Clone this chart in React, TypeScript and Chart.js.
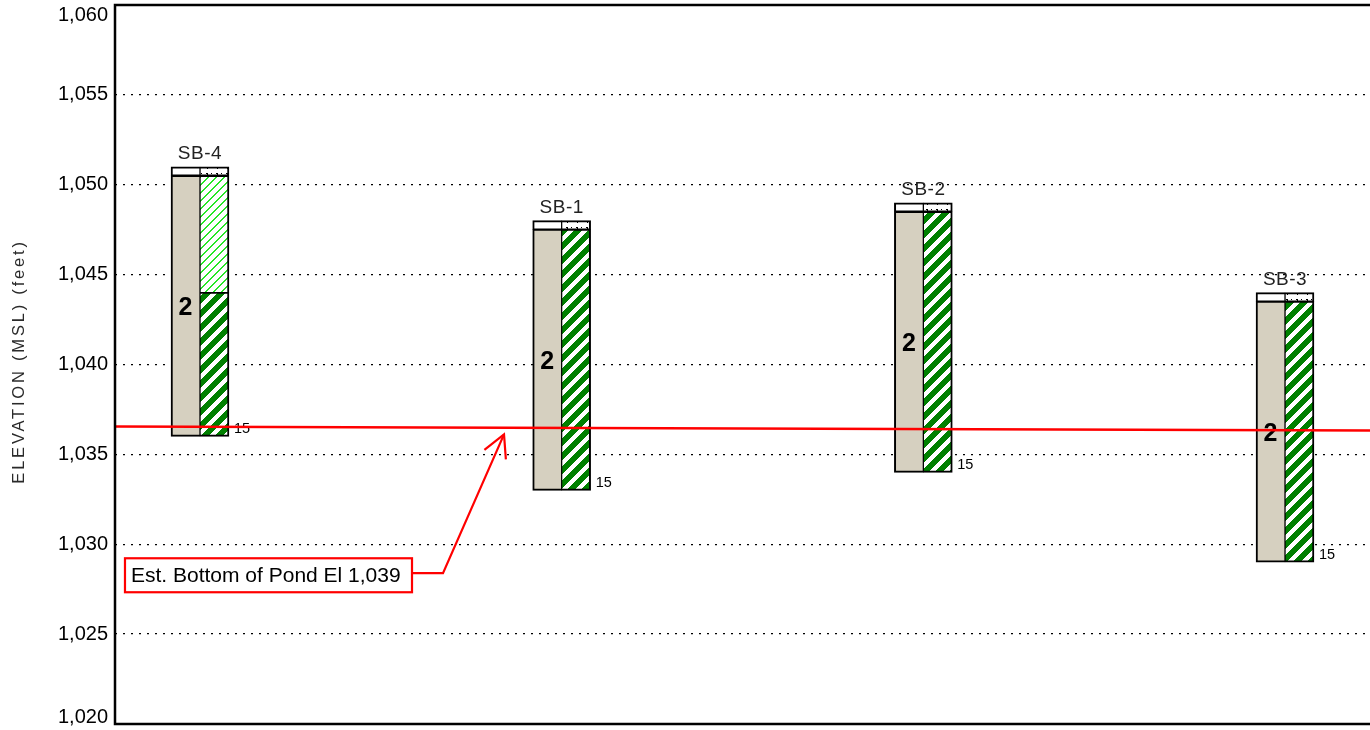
import React, { useEffect, useRef } from "react";
import { Chart, registerables } from "chart.js";

Chart.register(...registerables);

// ---- data ----
const boreholes = ["SB-4", "SB-1", "SB-2", "SB-3"];
const stations = [0, 1, 2, 3];
const topElevation = [1051, 1048, 1049, 1044];
const surfaceBottom = [1050.5, 1047.5, 1048.5, 1043.5];
const bottomElevation = [1036, 1033, 1034, 1029];
const darkHatchTop = [1044, 1047.5, 1048.5, 1043.5];
const lightHatchBottom: (number | null)[] = [1044, null, null, null];
const stratumLabels = ["2", "2", "2", "2"];
const depthLabels = ["15", "15", "15", "15"];

const pondLineX = [-0.235, 3.235];
const pondLineY = [1036.55, 1036.33];
const pondLabel = "Est. Bottom of Pond El 1,039";
const calloutBoxX = [-0.2074, 0.5862];
const calloutBoxY = [1027.33, 1029.22];
const calloutPathX = [0.5862, 0.6719, 0.8406];
const calloutPathY = [1028.39, 1028.39, 1036.11];

const yTickMin = 1020;
const yTickMax = 1060;
const yTickStep = 5;
const xMin = -0.235;
const xMax = 3.235;
const yTitle = "ELEVATION (MSL) (feet)";

// ---- styles ----
const FONT = '"Liberation Sans", Arial, Helvetica, sans-serif';
const COL_PX = 29;
const COL_OFF = 0.04;
const SOIL = "#d6d0c0";
const GREEN: [number, number, number] = [0, 128, 0];
const LIGHT_GREEN: [number, number, number] = [40, 230, 40];
const WHITE: [number, number, number] = [255, 255, 255];
const RED = "#ff0000";

// seamless "/" stripes: stripe pixels where (x + y) mod size is inside the band
function stripePattern(bg: number[], fg: number[], size: number, band: number) {
  const c = document.createElement("canvas");
  c.width = size;
  c.height = size;
  const ctx = c.getContext("2d")!;
  const img = ctx.createImageData(size, size);
  for (let y = 0; y < size; y++) {
    for (let x = 0; x < size; x++) {
      const d = (x + y) % size;
      // soft edge coverage
      let cov = 0;
      if (d < band) cov = 1;
      if (d === Math.floor(band)) cov = band - Math.floor(band);
      const i = (y * size + x) * 4;
      for (let k = 0; k < 3; k++) img.data[i + k] = Math.round(bg[k] * (1 - cov) + fg[k] * cov);
      img.data[i + 3] = 255;
    }
  }
  ctx.putImageData(img, 0, 0);
  return ctx.createPattern(c, "repeat")!;
}

function capPattern() {
  const c = document.createElement("canvas");
  c.width = 10;
  c.height = 9;
  const ctx = c.getContext("2d")!;
  ctx.fillStyle = "#fff";
  ctx.fillRect(0, 0, 10, 9);
  ctx.fillStyle = "#000";
  ctx.fillRect(1, 2, 1, 1);
  ctx.fillRect(2, 4, 1, 1);
  ctx.fillRect(4, 5, 1, 1);
  ctx.fillRect(7, 2, 1, 5);
  ctx.fillRect(6, 2, 1, 1);
  return ctx.createPattern(c, "repeat")!;
}

const boringPlugin = {
  id: "boringLog",
  afterDatasetDraw(chart: any, args: any) {
    if (args.index !== 0) return;
    const ctx = chart.ctx;
    const xs = chart.scales.x;
    const ys = chart.scales.y;
    ctx.save();
    ctx.fillStyle = "#000";
    stations.forEach((s, i) => {
      const cx = xs.getPixelForValue(s - COL_OFF);
      const cy = ys.getPixelForValue((surfaceBottom[i] + bottomElevation[i]) / 2);
      ctx.font = `bold 25px ${FONT}`;
      ctx.textAlign = "center";
      ctx.textBaseline = "middle";
      ctx.fillText(stratumLabels[i], cx, cy + 2);
      const rx = xs.getPixelForValue(s + COL_OFF) + COL_PX / 2 + 5;
      const by = ys.getPixelForValue(bottomElevation[i]);
      ctx.font = `14.5px ${FONT}`;
      ctx.textAlign = "left";
      ctx.textBaseline = "alphabetic";
      ctx.fillText(depthLabels[i], rx, by - 3);
    });
    ctx.restore();
  },
  afterDraw(chart: any) {
    const ctx = chart.ctx;
    const xs = chart.scales.x;
    const ys = chart.scales.y;
    const { left, right, top, bottom } = chart.chartArea;
    ctx.save();

    // frame
    ctx.strokeStyle = "#000";
    ctx.lineWidth = 2.5;
    ctx.beginPath();
    ctx.moveTo(right + 5, top);
    ctx.lineTo(left, top);
    ctx.lineTo(left, bottom);
    ctx.lineTo(right + 5, bottom);
    ctx.stroke();

    // y tick labels
    ctx.fillStyle = "#000";
    ctx.font = `20px ${FONT}`;
    ctx.textAlign = "right";
    ctx.textBaseline = "middle";
    ys.ticks.forEach((t: any) => {
      let py = ys.getPixelForValue(t.value);
      py = Math.max(py, top + 10);
      py = Math.min(py, bottom - 7);
      ctx.fillText(Number(t.value).toLocaleString("en-US"), left - 7, py);
    });

    // y title
    ctx.save();
    ctx.translate(24, (top + bottom) / 2 - 3);
    ctx.rotate(-Math.PI / 2);
    ctx.font = `16.5px ${FONT}`;
    (ctx as any).letterSpacing = "2.8px";
    ctx.fillStyle = "#2a2a2a";
    ctx.textAlign = "center";
    ctx.textBaseline = "alphabetic";
    ctx.fillText(yTitle, 0, 0);
    ctx.restore();

    // borehole names
    ctx.save();
    ctx.font = `19px ${FONT}`;
    (ctx as any).letterSpacing = "0.5px";
    ctx.fillStyle = "#222";
    ctx.textAlign = "center";
    ctx.textBaseline = "alphabetic";
    stations.forEach((s, i) => {
      ctx.fillText(boreholes[i], xs.getPixelForValue(s), ys.getPixelForValue(topElevation[i]) - 8);
    });
    ctx.restore();

    // callout
    const bx0 = xs.getPixelForValue(calloutBoxX[0]);
    const bx1 = xs.getPixelForValue(calloutBoxX[1]);
    const by0 = ys.getPixelForValue(calloutBoxY[1]);
    const by1 = ys.getPixelForValue(calloutBoxY[0]);
    ctx.fillStyle = "#fff";
    ctx.fillRect(bx0, by0, bx1 - bx0, by1 - by0);
    ctx.strokeStyle = RED;
    ctx.lineWidth = 2.2;
    ctx.strokeRect(bx0, by0, bx1 - bx0, by1 - by0);
    ctx.fillStyle = "#000";
    ctx.font = `21px ${FONT}`;
    ctx.textAlign = "left";
    ctx.textBaseline = "middle";
    ctx.fillText(pondLabel, bx0 + 6, (by0 + by1) / 2 + 1);

    const pts = calloutPathX.map((v, i) => [xs.getPixelForValue(v), ys.getPixelForValue(calloutPathY[i])]);
    ctx.beginPath();
    ctx.moveTo(pts[0][0], pts[0][1]);
    for (let i = 1; i < pts.length; i++) ctx.lineTo(pts[i][0], pts[i][1]);
    ctx.stroke();
    const tip = pts[pts.length - 1];
    const prev = pts[pts.length - 2];
    const ang = Math.atan2(prev[1] - tip[1], prev[0] - tip[0]);
    const head = 25;
    const spread = (28 * Math.PI) / 180;
    ctx.beginPath();
    ctx.moveTo(tip[0] + head * Math.cos(ang + spread), tip[1] + head * Math.sin(ang + spread));
    ctx.lineTo(tip[0], tip[1]);
    ctx.lineTo(tip[0] + head * Math.cos(ang - spread), tip[1] + head * Math.sin(ang - spread));
    ctx.stroke();

    ctx.restore();
  },
};

export default function App() {
  const ref = useRef<HTMLCanvasElement | null>(null);

  useEffect(() => {
    if (!ref.current) return;
    const dark = stripePattern(GREEN, WHITE, 14, 6);
    const light = stripePattern(WHITE, LIGHT_GREEN, 8, 2);
    const cap = capPattern();

    const bw = (l: number, r: number, t: number, b: number) => ({ left: l, right: r, top: t, bottom: b });

    const lightData = stations
      .map((s, i) =>
        lightHatchBottom[i] === null ? null : { x: s + COL_OFF, y: [lightHatchBottom[i] as number, surfaceBottom[i]] }
      )
      .filter((d) => d !== null);

    const barCommon = {
      type: "bar" as const,
      barThickness: COL_PX,
      grouped: false,
      borderColor: "#000",
      borderSkipped: false as const,
      order: 1,
    };

    const chart = new Chart(ref.current, {
      type: "bar",
      data: {
        datasets: [
          {
            ...barCommon,
            label: "Stratum",
            data: stations.map((s, i) => ({ x: s - COL_OFF, y: [bottomElevation[i], surfaceBottom[i]] })),
            backgroundColor: SOIL,
            borderWidth: bw(2, 1, 1.5, 2),
          },
          {
            ...barCommon,
            label: "Lithology",
            data: stations.map((s, i) => ({ x: s + COL_OFF, y: [bottomElevation[i], darkHatchTop[i]] })),
            backgroundColor: dark,
            borderWidth: bw(1, 2, 1.5, 2),
          },
          {
            ...barCommon,
            label: "Lithology upper",
            data: lightData,
            backgroundColor: light,
            borderWidth: bw(1, 2, 1.5, 1),
          },
          {
            ...barCommon,
            label: "Surface",
            data: stations.map((s, i) => ({ x: s - COL_OFF, y: [surfaceBottom[i], topElevation[i]] })),
            backgroundColor: "#fff",
            borderWidth: bw(2, 1, 2, 1.5),
          },
          {
            ...barCommon,
            label: "Surface cover",
            data: stations.map((s, i) => ({ x: s + COL_OFF, y: [surfaceBottom[i], topElevation[i]] })),
            backgroundColor: cap,
            borderWidth: bw(1, 2, 2, 1.5),
          },
          {
            type: "line",
            label: "Est. Bottom of Pond",
            data: pondLineX.map((x, i) => ({ x, y: pondLineY[i] })),
            borderColor: RED,
            borderWidth: 2.5,
            pointRadius: 0,
            order: 0,
          } as any,
        ] as any,
      },
      options: {
        responsive: false,
        animation: false,
        layout: { padding: { top: 5, bottom: 6, left: 0, right: 0 } },
        plugins: {
          legend: { display: false },
          tooltip: { enabled: false },
          title: { display: false },
        },
        scales: {
          x: {
            type: "linear",
            min: xMin,
            max: xMax,
            offset: false,
            display: false,
          },
          y: {
            type: "linear",
            min: yTickMin,
            max: yTickMax,
            ticks: { stepSize: yTickStep, display: false },
            border: { display: false, dash: [2, 6] },
            grid: {
              drawTicks: false,
              lineWidth: 1.3,
              color: (c: any) =>
                c.tick && (c.tick.value === yTickMin || c.tick.value === yTickMax) ? "rgba(0,0,0,0)" : "#000",
            },
            afterFit: (scale: any) => {
              scale.width = 115;
              scale.paddingTop = 0;
              scale.paddingBottom = 0;
            },
          },
        },
      } as any,
      plugins: [boringPlugin],
    });
    return () => chart.destroy();
  }, []);

  return (
    <div style={{ position: "absolute", left: 0, top: 0, width: 1370, height: 730, background: "#fff" }}>
      <canvas ref={ref} width={1370} height={730} style={{ display: "block" }} />
    </div>
  );
}
